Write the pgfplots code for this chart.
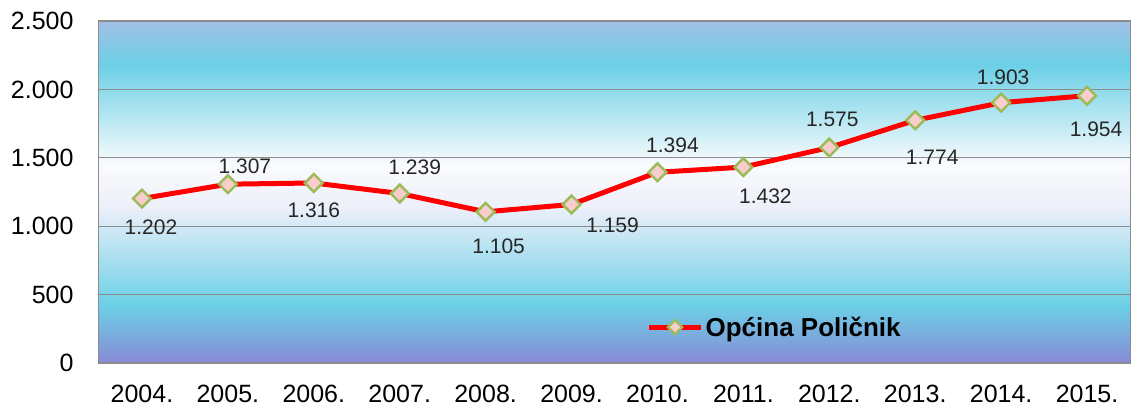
\documentclass[border=0pt]{standalone}
\usepackage{pgfplots}
\pgfplotsset{compat=1.18}
\usepackage{pgfplotstable}
\usepackage{fontspec}
\setmainfont{Liberation Sans}
\definecolor{ctop}{RGB}{162,192,230}
\definecolor{ccyan}{RGB}{108,208,230}
\definecolor{cwhite}{RGB}{250,251,253}
\definecolor{clav}{RGB}{238,240,250}
\definecolor{cbot}{RGB}{136,138,214}
\definecolor{mkfill}{RGB}{250,205,205}
\definecolor{mkdraw}{RGB}{155,187,89}
\pgfdeclareverticalshading{bgshade}{100bp}{color(0bp)=(cbot); color(25bp)=(cbot); color(33.5bp)=(ccyan); color(48bp)=(clav); color(54bp)=(cwhite); color(68.5bp)=(ccyan); color(75bp)=(ctop); color(100bp)=(ctop)}
\pgfplotstableread{
x y dx dy
0 1202 9 -29
1 1307 17 18
2 1316 0 -27
3 1239 15 26
4 1105 13 -34
5 1159 41 -21
6 1394 15 27
7 1432 22 -29
8 1575 3 28
9 1774 17 -37
10 1903 2 25
11 1954 9 -34
}\data
\begin{document}
\begin{tikzpicture}
\begin{axis}[
  scale only axis, width=1031pt, height=342pt,
  xmin=-0.5, xmax=11.5, ymin=0, ymax=2500,
  ytick={0,500,1000,1500,2000,2500},
  xtick={0,...,11},
  xticklabels={2004.,2005.,2006.,2007.,2008.,2009.,2010.,2011.,2012.,2013.,2014.,2015.},
  axis background/.style={shading=bgshade},
  ymajorgrids, grid style={draw=black!45, line width=1.2pt},
  major tick length=0pt,
  axis line style={draw=black!45, line width=1pt},
  tick label style={font=\fontsize{25}{29}\selectfont, text=black},
  yticklabel style={xshift=-22pt},
  xticklabel style={yshift=-19pt},
  /pgf/number format/.cd, 1000 sep={.}, assume math mode=true, /pgfplots/.cd,
  legend style={at={(0.528,0.105)}, anchor=west, draw=none, fill=none, font=\bfseries\fontsize{26}{30}\selectfont},
  legend image code/.code={\draw[#1, mark repeat=2, mark phase=2, mark size=5pt] plot coordinates {(0pt,0pt)(26pt,0pt)(52pt,0pt)};},
]
\addplot[red, line width=5pt, mark=square*, mark size=6.3pt,
  mark options={rotate=45, fill=mkfill, draw=mkdraw, line width=2.4pt},
  visualization depends on={\thisrow{dx}\as\dx},
  visualization depends on={\thisrow{dy}\as\dy},
  nodes near coords,
  point meta=explicit,
  nodes near coords style={anchor=center, xshift=\dx pt, yshift=\dy pt, font=\fontsize{21}{24}\selectfont, text=black!85}
] table[x=x, y=y, meta=y] {\data};
\addlegendentry{Općina Poličnik}
\end{axis}
\pgfresetboundingbox
\path (-99pt,-47pt) rectangle (1033pt,363pt);
\end{tikzpicture}
\end{document}
